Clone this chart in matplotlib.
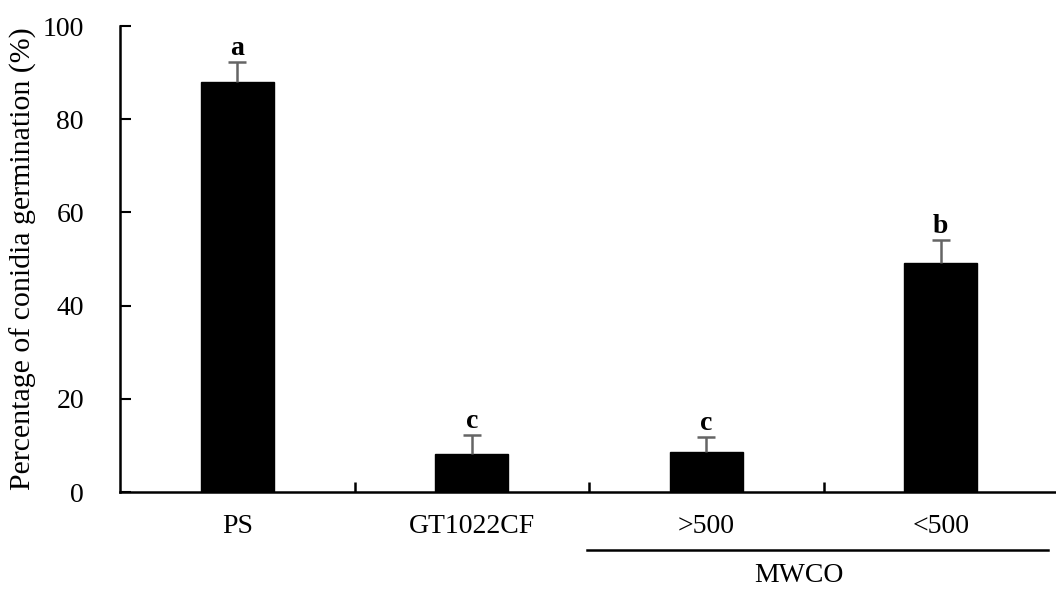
import numpy as np
import matplotlib.pyplot as plt

plt.rcParams['font.family'] = ['Liberation Serif', 'DejaVu Serif']

# datos
categorias = ['PS', 'GT1022CF', '>500', '<500']
germinacion = [88.0, 8.1, 8.5, 49.1]
error = [4.3, 4.1, 3.4, 5.0]
letras = ['a', 'c', 'c', 'b']

fig = plt.figure(figsize=(10.56, 5.9), dpi=100)
ax = fig.add_axes([120/1056, (590-492)/590, 938/1056, 466/590])

x = np.arange(len(categorias))
ax.bar(x, germinacion, width=0.31, color='black', edgecolor='black')
_, caps, _ = ax.errorbar(x, germinacion, yerr=[np.zeros(len(error)), error], fmt='none',
                         ecolor='#656565', elinewidth=1.8, capsize=6.5, capthick=1.8)
caps[0].set_visible(False)  # solo la tapa superior

for xi, v, e, l in zip(x, germinacion, error, letras):
    ax.text(xi, v + e + 0.2, l, ha='center', va='bottom', fontsize=20, fontweight='bold')

ax.set_xlim(-0.5, 3.5)
ax.set_ylim(0, 100)
ax.set_yticks(np.arange(0, 101, 20))
ax.set_xticks(x + 0.5)
ax.set_xticklabels([])
ax.tick_params(axis='x', direction='in', length=7, width=1.8)
ax.tick_params(axis='y', direction='in', length=8, width=1.5, labelsize=20, pad=26)
for xi, c in zip(x, categorias):
    ax.text(xi, -7.5, c, ha='center', va='center', fontsize=20)

ax.spines['top'].set_visible(False)
ax.spines['right'].set_visible(False)
ax.spines['left'].set_linewidth(1.8)
ax.spines['bottom'].set_linewidth(1.8)
ax.set_ylabel('Percentage of conidia germination (%)', fontsize=21.5, labelpad=4)

# linea MWCO
fig.add_artist(plt.Line2D([587/1056, 1048/1056], [1 - 550/590, 1 - 550/590], color='black', lw=1.8))
fig.text(799/1056, 1 - 576/590, 'MWCO', ha='center', va='center', fontsize=20)

fig.savefig('out.png', dpi=100)
